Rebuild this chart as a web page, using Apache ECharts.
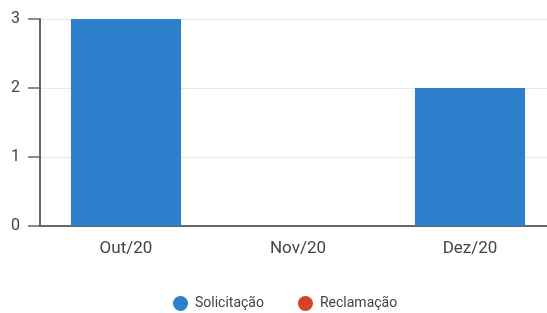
<!DOCTYPE html>
<html lang="pt">
<head>
    <meta charset="UTF-8">
    <title>Solicitações e Reclamações</title>
    <script src="https://cdn.jsdelivr.net/npm/echarts@6/dist/echarts.min.js"></script>
</head>
<body style="margin:0;">
<div id="chartContainer" style="width:547px;height:313px;"></div>
<script type="text/javascript">
    // dados
    var meses = ['Out/20', 'Nov/20', 'Dez/20'];
    var solicitacao = [3, 0, 2];
    var reclamacao = [0, 0, 0];
    var yTicks = [0, 1, 2, 3];

    var chart = echarts.init(document.getElementById('chartContainer'));
    var axisFont = {color: '#444', fontSize: 16, fontFamily: 'Roboto'};

    var option = {
        animation: false,
        grid: {left: 40, width: 516, top: 19, bottom: 87, outerBoundsMode: 'none', containLabel: false},
        legend: {
            bottom: -3,
            left: 168,
            icon: 'circle',
            itemWidth: 15,
            itemHeight: 15,
            itemGap: 34,
            textStyle: {color: '#444', fontSize: 14, fontFamily: 'Roboto', padding: [0, 0, 0, 2]},
            data: ['Solicitação', 'Reclamação']
        },
        xAxis: {
            type: 'category',
            data: meses,
            axisLine: {lineStyle: {color: '#666', width: 2}},
            axisTick: {alignWithLabel: true, length: 10, lineStyle: {color: '#666', width: 2}},
            axisLabel: Object.assign({margin: 14}, axisFont, {fontSize: 17})
        },
        yAxis: {
            type: 'value',
            min: yTicks[0],
            max: yTicks[yTicks.length - 1],
            interval: 1,
            axisLine: {show: true, lineStyle: {color: '#666', width: 2}},
            axisTick: {show: true, length: 12, lineStyle: {color: '#666', width: 1.5}},
            axisLabel: Object.assign({margin: 20}, axisFont),
            splitLine: {lineStyle: {color: '#e8e8e8'}}
        },
        series: [
            {
                name: 'Solicitação',
                type: 'bar',
                stack: 'total',
                barWidth: '64%',
                data: solicitacao,
                itemStyle: {color: '#2e7fcb'}
            },
            {
                name: 'Reclamação',
                type: 'bar',
                stack: 'total',
                barWidth: '64%',
                data: reclamacao,
                itemStyle: {color: '#d4422b'}
            }
        ]
    };
    chart.setOption(option);
</script>
</body>
</html>
